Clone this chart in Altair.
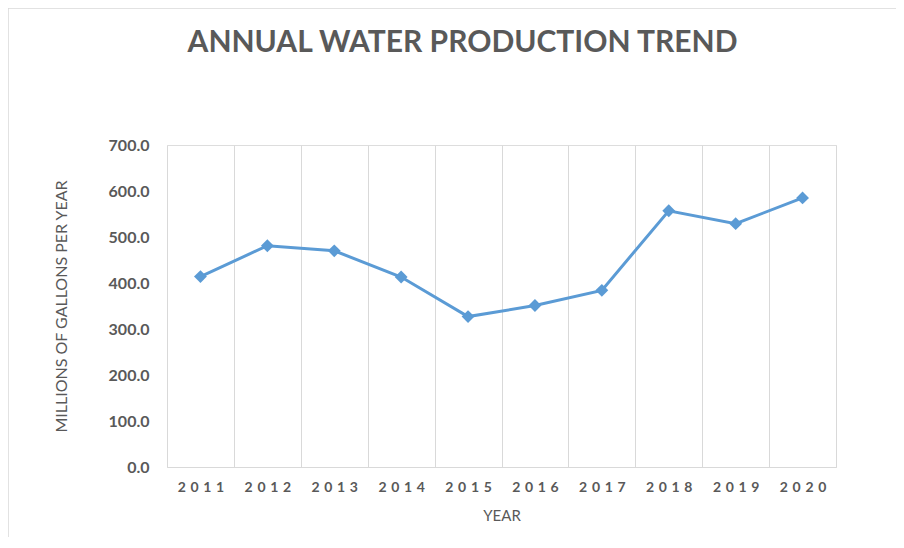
import altair as alt
import pandas as pd

years = [2011, 2012, 2013, 2014, 2015, 2016, 2017, 2018, 2019, 2020]
production = [414.0, 481.0, 470.0, 413.0, 327.0, 351.0, 384.0, 557.0, 529.0, 585.0]
y_ticks = [0, 100, 200, 300, 400, 500, 600, 700]

df = pd.DataFrame({"year": years, "production": production})

TEXT = "#595959"
GRID = "#D9D9D9"
BLUE = "#5B9BD5"
FONT = "Lato"

x_enc = alt.X(
    "year:O",
    scale=alt.Scale(type="band", paddingInner=0, paddingOuter=0),
    axis=alt.Axis(
        title="YEAR",
        labelAngle=0,
        tickBand="extent",
        grid=True,
        gridColor=GRID,
        gridWidth=1,
        domainColor=GRID,
        ticks=False,
        labelPadding=13,
        labelFont=FONT,
        labelFontSize=14,
        labelFontWeight="bold",
        labelColor=TEXT,
        labelExpr="join(split(datum.label, ''), '\u2004')",
        titleFont=FONT,
        titleFontSize=15,
        titleFontWeight="normal",
        titleColor=TEXT,
        titlePadding=14,
    ),
)
y_enc = alt.Y(
    "production:Q",
    scale=alt.Scale(domain=[0, 700], nice=False),
    axis=alt.Axis(
        title="MILLIONS OF GALLONS PER YEAR",
        values=y_ticks,
        format=".1f",
        grid=False,
        domain=False,
        ticks=False,
        labelPadding=18,
        labelFont=FONT,
        labelFontSize=16,
        labelFontWeight="bold",
        labelColor=TEXT,
        titleFont=FONT,
        titleFontSize=16,
        titleFontWeight="normal",
        titleColor=TEXT,
        titlePadding=39,
    ),
)

frame = alt.Chart(alt.Data(values=[{}])).mark_rect(
    fill=None, stroke=GRID, strokeWidth=1.5
).encode(
    x=alt.value(-159), y=alt.value(-137), x2=alt.value(900), y2=alt.value(600)
)

line = alt.Chart(df).mark_line(color=BLUE, strokeWidth=3).encode(x=x_enc, y=y_enc)
points = alt.Chart(df).mark_point(
    shape="diamond", filled=True, color=BLUE, size=165, opacity=1
).encode(x="year:O", y="production:Q")

chart = alt.layer(frame, line, points).properties(
    width=669,
    height=322,
    autosize=alt.AutoSizeParams(type="none"),
    padding={"left": 159, "top": 137, "right": 60, "bottom": 70},
    title=alt.Title(
        "ANNUAL WATER PRODUCTION TREND",
        font=FONT,
        fontSize=30,
        fontWeight="bold",
        color=TEXT,
        anchor="middle",
        frame="group",
        baseline="alphabetic",
        dx=-39,
        dy=75,
        offset=0,
    ),
).configure_view(stroke=None).configure(background="white")

chart.save("out.html", embed_options={"renderer": "svg", "actions": False})
